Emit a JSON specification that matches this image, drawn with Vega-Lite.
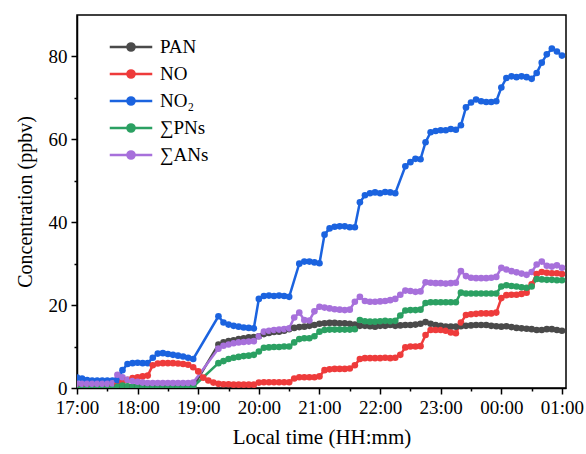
{
"$schema": "https://vega.github.io/schema/vega-lite/v6.json",
"width": 489, "height": 373,
"autosize": {"type": "none"},
"padding": {"left": 77, "top": 15, "right": 20, "bottom": 66},
"background": "white",
"config": {"view": {"stroke": "black", "strokeWidth": 1.5}, "font": "Liberation Serif"},
"data": {"values": [
{"m":0,"PAN":0.4,"NO":0.5,"NO₂":2.5,"∑PNs":0.2,"∑ANs":1.0},
{"m":5,"PAN":0.4,"NO":0.5,"NO₂":2.3,"∑PNs":0.2,"∑ANs":1.0},
{"m":10,"PAN":0.4,"NO":0.5,"NO₂":1.9,"∑PNs":0.2,"∑ANs":1.0},
{"m":15,"PAN":0.4,"NO":0.5,"NO₂":1.8,"∑PNs":0.2,"∑ANs":1.0},
{"m":20,"PAN":0.4,"NO":0.5,"NO₂":1.8,"∑PNs":0.2,"∑ANs":1.0},
{"m":25,"PAN":0.4,"NO":0.5,"NO₂":1.8,"∑PNs":0.2,"∑ANs":1.0},
{"m":30,"PAN":0.4,"NO":0.5,"NO₂":1.8,"∑PNs":0.2,"∑ANs":1.0},
{"m":35,"PAN":0.4,"NO":0.5,"NO₂":1.8,"∑PNs":0.2,"∑ANs":1.1},
{"m":40,"PAN":0.4,"NO":0.8,"NO₂":1.9,"∑PNs":0.3,"∑ANs":3.2},
{"m":45,"PAN":0.4,"NO":1.5,"NO₂":4.3,"∑PNs":0.6,"∑ANs":2.6},
{"m":50,"PAN":0.3,"NO":2.0,"NO₂":5.8,"∑PNs":0.4,"∑ANs":2.0},
{"m":55,"PAN":0.3,"NO":2.4,"NO₂":6.0,"∑PNs":0.3,"∑ANs":1.7},
{"m":60,"PAN":0.3,"NO":2.6,"NO₂":6.1,"∑PNs":0.2,"∑ANs":1.5},
{"m":65,"PAN":0.3,"NO":2.8,"NO₂":6.0,"∑PNs":0.2,"∑ANs":1.3},
{"m":70,"PAN":0.3,"NO":3.0,"NO₂":6.0,"∑PNs":0.2,"∑ANs":1.2},
{"m":75,"PAN":0.3,"NO":5.5,"NO₂":7.3,"∑PNs":0.2,"∑ANs":1.2},
{"m":80,"PAN":0.3,"NO":5.9,"NO₂":8.3,"∑PNs":0.2,"∑ANs":1.2},
{"m":85,"PAN":0.3,"NO":6.0,"NO₂":8.4,"∑PNs":0.2,"∑ANs":1.2},
{"m":90,"PAN":0.3,"NO":6.0,"NO₂":8.2,"∑PNs":0.2,"∑ANs":1.2},
{"m":95,"PAN":0.3,"NO":6.0,"NO₂":8.0,"∑PNs":0.2,"∑ANs":1.2},
{"m":100,"PAN":0.3,"NO":5.9,"NO₂":7.8,"∑PNs":0.2,"∑ANs":1.2},
{"m":105,"PAN":0.3,"NO":5.8,"NO₂":7.6,"∑PNs":0.2,"∑ANs":1.2},
{"m":110,"PAN":0.3,"NO":5.6,"NO₂":7.3,"∑PNs":0.2,"∑ANs":1.2},
{"m":115,"PAN":0.3,"NO":5.0,"NO₂":7.0,"∑PNs":0.3,"∑ANs":1.3},
{"m":120,"NO":4.0},
{"m":125,"NO":2.5},
{"m":130,"NO":1.8},
{"m":135,"NO":1.3},
{"m":140,"PAN":10.5,"NO":1.0,"NO₂":17.3,"∑PNs":6.0,"∑ANs":9.5},
{"m":145,"PAN":11.0,"NO":0.9,"NO₂":15.8,"∑PNs":6.5,"∑ANs":10.2},
{"m":150,"PAN":11.3,"NO":0.9,"NO₂":15.3,"∑PNs":7.0,"∑ANs":10.5},
{"m":155,"PAN":11.5,"NO":0.8,"NO₂":15.0,"∑PNs":7.3,"∑ANs":10.8},
{"m":160,"PAN":11.8,"NO":0.8,"NO₂":14.8,"∑PNs":7.5,"∑ANs":11.0},
{"m":165,"PAN":12.0,"NO":0.8,"NO₂":14.6,"∑PNs":7.7,"∑ANs":11.1},
{"m":170,"PAN":12.2,"NO":0.8,"NO₂":14.5,"∑PNs":7.8,"∑ANs":11.2},
{"m":175,"PAN":12.3,"NO":0.8,"NO₂":14.4,"∑PNs":8.0,"∑ANs":11.3},
{"m":180,"PAN":12.5,"NO":1.3,"NO₂":21.5,"∑PNs":8.8,"∑ANs":12.5},
{"m":185,"PAN":13.0,"NO":1.4,"NO₂":22.2,"∑PNs":9.7,"∑ANs":13.6},
{"m":190,"PAN":13.3,"NO":1.4,"NO₂":22.3,"∑PNs":9.8,"∑ANs":13.8},
{"m":195,"PAN":13.5,"NO":1.4,"NO₂":22.2,"∑PNs":9.9,"∑ANs":14.0},
{"m":200,"PAN":13.6,"NO":1.4,"NO₂":22.3,"∑PNs":9.9,"∑ANs":14.1},
{"m":205,"PAN":13.8,"NO":1.4,"NO₂":22.2,"∑PNs":10.0,"∑ANs":14.2},
{"m":210,"PAN":14.2,"NO":1.4,"NO₂":22.0,"∑PNs":10.0,"∑ANs":14.4},
{"m":215,"PAN":14.5,"NO":2.3,"∑PNs":11.0,"∑ANs":17.0},
{"m":220,"PAN":14.7,"NO":2.6,"NO₂":30.0,"∑PNs":11.8,"∑ANs":18.2},
{"m":225,"PAN":14.8,"NO":2.6,"NO₂":30.5,"∑PNs":12.0,"∑ANs":16.4},
{"m":230,"PAN":15.0,"NO":2.6,"NO₂":30.5,"∑PNs":12.0,"∑ANs":16.3},
{"m":235,"PAN":15.2,"NO":2.6,"NO₂":30.3,"∑PNs":12.5,"∑ANs":18.5},
{"m":240,"PAN":15.5,"NO":2.8,"NO₂":30.1,"∑PNs":13.6,"∑ANs":19.6},
{"m":245,"PAN":15.6,"NO":4.3,"NO₂":37.0,"∑PNs":14.0,"∑ANs":19.4},
{"m":250,"PAN":15.7,"NO":4.5,"NO₂":38.5,"∑PNs":14.1,"∑ANs":19.2},
{"m":255,"PAN":15.7,"NO":4.6,"NO₂":38.9,"∑PNs":14.1,"∑ANs":19.0},
{"m":260,"PAN":15.6,"NO":4.6,"NO₂":39.0,"∑PNs":14.1,"∑ANs":18.9},
{"m":265,"PAN":15.6,"NO":4.6,"NO₂":39.0,"∑PNs":14.1,"∑ANs":18.8},
{"m":270,"PAN":15.5,"NO":4.7,"NO₂":38.8,"∑PNs":14.1,"∑ANs":18.9},
{"m":275,"PAN":15.3,"NO":5.5,"NO₂":38.8,"∑PNs":14.2,"∑ANs":20.8},
{"m":280,"PAN":15.0,"NO":7.0,"NO₂":44.8,"∑PNs":16.4,"∑ANs":22.0},
{"m":285,"PAN":15.0,"NO":7.2,"NO₂":46.5,"∑PNs":16.1,"∑ANs":21.0},
{"m":290,"PAN":14.9,"NO":7.2,"NO₂":47.0,"∑PNs":16.0,"∑ANs":20.8},
{"m":295,"PAN":14.8,"NO":7.2,"NO₂":47.2,"∑PNs":16.0,"∑ANs":20.8},
{"m":300,"PAN":15.0,"NO":7.2,"NO₂":47.0,"∑PNs":16.1,"∑ANs":20.9},
{"m":305,"PAN":15.0,"NO":7.3,"NO₂":47.3,"∑PNs":16.2,"∑ANs":21.0},
{"m":310,"PAN":15.2,"NO":7.2,"NO₂":47.2,"∑PNs":16.1,"∑ANs":21.2},
{"m":315,"PAN":15.0,"NO":7.3,"NO₂":47.0,"∑PNs":16.2,"∑ANs":21.5},
{"m":320,"PAN":15.1,"NO":8.0,"∑PNs":17.5,"∑ANs":22.5},
{"m":325,"PAN":15.2,"NO":9.8,"NO₂":53.5,"∑PNs":18.7,"∑ANs":23.5},
{"m":330,"PAN":15.2,"NO":10.0,"NO₂":54.5,"∑PNs":18.8,"∑ANs":23.4},
{"m":335,"PAN":15.3,"NO":10.0,"NO₂":55.3,"∑PNs":18.8,"∑ANs":23.2},
{"m":340,"PAN":15.5,"NO":10.1,"NO₂":55.2,"∑PNs":18.9,"∑ANs":23.3},
{"m":345,"PAN":15.9,"NO":12.8,"NO₂":59.3,"∑PNs":20.5,"∑ANs":25.5},
{"m":350,"PAN":15.5,"NO":14.0,"NO₂":61.7,"∑PNs":20.7,"∑ANs":25.4},
{"m":355,"PAN":15.2,"NO":14.0,"NO₂":62.0,"∑PNs":20.7,"∑ANs":25.3},
{"m":360,"PAN":15.0,"NO":14.0,"NO₂":62.2,"∑PNs":20.7,"∑ANs":25.3},
{"m":365,"PAN":14.8,"NO":13.8,"NO₂":62.2,"∑PNs":20.7,"∑ANs":25.2},
{"m":370,"PAN":14.8,"NO":13.4,"NO₂":62.5,"∑PNs":20.7,"∑ANs":25.3},
{"m":375,"PAN":14.8,"NO":13.2,"NO₂":62.3,"∑PNs":20.7,"∑ANs":25.4},
{"m":380,"PAN":14.9,"NO":15.8,"NO₂":63.4,"∑PNs":23.0,"∑ANs":28.2},
{"m":385,"PAN":15.0,"NO":17.6,"NO₂":67.7,"∑PNs":22.8,"∑ANs":27.0},
{"m":390,"PAN":15.1,"NO":17.8,"NO₂":68.9,"∑PNs":22.8,"∑ANs":26.6},
{"m":395,"PAN":15.2,"NO":17.9,"NO₂":69.6,"∑PNs":22.8,"∑ANs":26.5},
{"m":400,"PAN":15.2,"NO":18.0,"NO₂":69.2,"∑PNs":22.8,"∑ANs":26.5},
{"m":405,"PAN":15.2,"NO":18.0,"NO₂":69.0,"∑PNs":22.8,"∑ANs":26.5},
{"m":410,"PAN":15.0,"NO":18.0,"NO₂":69.0,"∑PNs":22.8,"∑ANs":26.6},
{"m":415,"PAN":14.9,"NO":18.2,"NO₂":69.2,"∑PNs":22.8,"∑ANs":26.8},
{"m":420,"PAN":14.8,"NO":21.7,"NO₂":72.5,"∑PNs":24.5,"∑ANs":29.0},
{"m":425,"PAN":14.9,"NO":22.4,"NO₂":74.8,"∑PNs":24.8,"∑ANs":28.6},
{"m":430,"PAN":14.7,"NO":22.5,"NO₂":75.2,"∑PNs":24.6,"∑ANs":28.2},
{"m":435,"PAN":14.5,"NO":22.5,"NO₂":75.0,"∑PNs":24.5,"∑ANs":27.9},
{"m":440,"PAN":14.4,"NO":22.7,"NO₂":75.2,"∑PNs":24.3,"∑ANs":27.6},
{"m":445,"PAN":14.3,"NO":23.0,"NO₂":75.0,"∑PNs":24.2,"∑ANs":27.3},
{"m":450,"PAN":14.2,"NO":25.0,"NO₂":74.6,"∑PNs":24.5,"∑ANs":28.0},
{"m":455,"PAN":14.0,"NO":27.5,"NO₂":76.0,"∑PNs":26.3,"∑ANs":29.8},
{"m":460,"PAN":14.0,"NO":28.0,"NO₂":78.5,"∑PNs":26.2,"∑ANs":30.5},
{"m":465,"PAN":14.2,"NO":27.8,"NO₂":80.5,"∑PNs":26.1,"∑ANs":29.5},
{"m":470,"PAN":14.2,"NO":27.7,"NO₂":81.9,"∑PNs":26.1,"∑ANs":29.3},
{"m":475,"PAN":14.0,"NO":27.7,"NO₂":81.2,"∑PNs":26.0,"∑ANs":29.6},
{"m":480,"PAN":13.8,"NO":27.5,"NO₂":80.2,"∑PNs":26.0,"∑ANs":29.0}
]},
"transform": [
  {"fold": ["PAN", "NO", "NO₂", "∑PNs", "∑ANs"], "as": ["series", "conc"]},
  {"filter": "isValid(datum.conc)"}
],
"mark": {"type": "line", "strokeWidth": 2.5, "clip": true, "point": {"filled": true, "size": 44}},
"encoding": {
  "x": {"field": "m", "type": "quantitative",
    "scale": {"domain": [0, 484], "nice": false, "zero": false},
    "axis": {"title": "Local time (HH:mm)", "grid": false,
      "values": [0,30,60,90,120,150,180,210,240,270,300,330,360,390,420,450,480],
      "labelExpr": "datum.value % 60 === 0 ? (((((17 + datum.value/60) % 24) < 10) ? '0' : '') + ((17 + datum.value/60) % 24) + ':00') : ''",
      "tickSize": {"condition": {"test": "datum.value % 60 === 0", "value": 6}, "value": 3},
      "tickColor": "black", "tickWidth": 1.5, "domainColor": "black", "domainWidth": 1.5,
      "labelFont": "Liberation Serif", "labelFontSize": 19, "labelColor": "black", "labelPadding": 4,
      "labelOverlap": false, "labelFlush": false,
      "titleFont": "Liberation Serif", "titleFontSize": 21, "titleFontWeight": "normal", "titleColor": "black", "titlePadding": 9}},
  "y": {"field": "conc", "type": "quantitative",
    "scale": {"domain": [0, 90], "nice": false},
    "axis": {"title": "Concentration (ppbv)", "grid": false,
      "values": [0,10,20,30,40,50,60,70,80],
      "labelExpr": "datum.value % 20 === 0 ? datum.value : ''",
      "tickSize": {"condition": {"test": "datum.value % 20 === 0", "value": 6}, "value": 3},
      "tickColor": "black", "tickWidth": 1.5, "domainColor": "black", "domainWidth": 1.5,
      "labelFont": "Liberation Serif", "labelFontSize": 19, "labelColor": "black", "labelPadding": 4,
      "labelOverlap": false,
      "titleFont": "Liberation Serif", "titleFontSize": 20, "titleFontWeight": "normal", "titleColor": "black", "titlePadding": 13}},
  "color": {"field": "series", "type": "nominal",
    "scale": {"domain": ["PAN", "NO", "NO₂", "∑PNs", "∑ANs"], "range": ["#4a4a4a", "#ee3b3b", "#1b63df", "#2ba062", "#a770db"]},
    "legend": {"title": null, "orient": "none", "legendX": 44, "legendY": 22, "padding": 0,
      "labelFont": "Liberation Serif", "labelFontSize": 19, "labelColor": "black",
      "symbolType": "M-2.5,0L2.5,0M-0.42,0A0.42,0.42 0 1,0 0.42,0A0.42,0.42 0 1,0 -0.42,0Z",
      "symbolSize": 289, "symbolStrokeWidth": 2.5, "rowPadding": 7, "labelOffset": 19,
      "encode": {"symbols": {"update": {"fill": {"scale": "color", "field": "value"}, "opacity": {"value": 1}}}}}}
}
}
